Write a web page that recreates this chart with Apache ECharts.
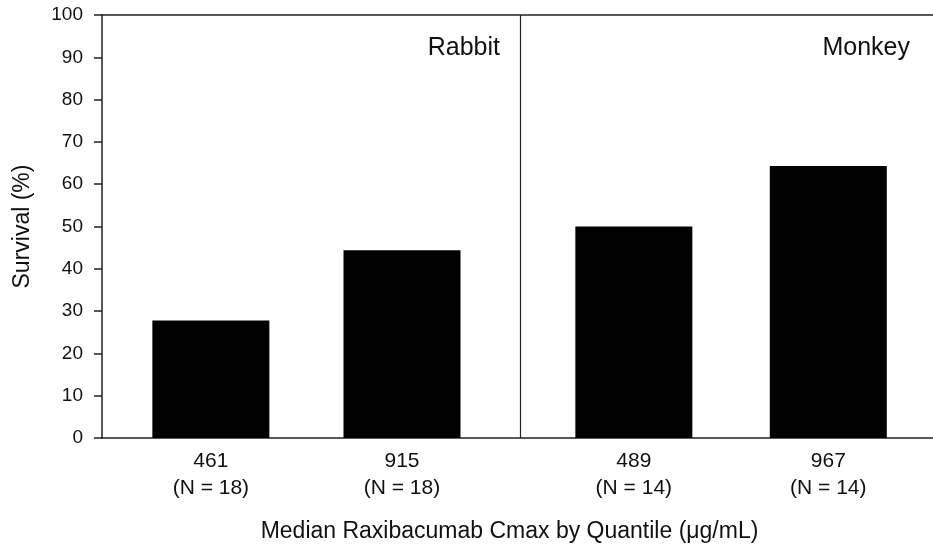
<!DOCTYPE html>
<html>
<head>
<meta charset="utf-8">
<script src="https://cdn.jsdelivr.net/npm/echarts@6/dist/echarts.min.js"></script>
<style>
html,body{margin:0;padding:0;background:#fff;}
#chart{width:933px;height:551px;}
</style>
</head>
<body>
<div id="chart"></div>
<script>
// ---- data ----
const cmaxLabels = ['461', '915', '489', '967'];
const nLabels = ['(N = 18)', '(N = 18)', '(N = 14)', '(N = 14)'];
const survival = [27.8, 44.4, 50.0, 64.3];
const species = ['Rabbit', 'Monkey'];
const yTicks = [0, 10, 20, 30, 40, 50, 60, 70, 80, 90, 100];

// ---- layout (axis units along the x axis) ----
const xPos = [13.1, 36.1, 64.0, 87.4];
const dividerPos = 50.3;

const FONT = 'Liberation Sans, Arial, sans-serif';
const chart = echarts.init(document.getElementById('chart'), null, {renderer: 'canvas'});

const labelMap = {};
xPos.forEach((p, i) => { labelMap[p.toFixed(1)] = cmaxLabels[i] + '\n' + nLabels[i]; });

chart.setOption({
  animation: false,
  backgroundColor: '#fff',
  grid: {left: 102, right: 0, top: 15, bottom: 113, containLabel: false},
  xAxis: [{
    type: 'value', min: 0, max: 100, position: 'bottom',
    axisLine: {show: true, lineStyle: {color: '#222', width: 1.5}},
    axisTick: {show: false},
    splitLine: {show: false},
    axisLabel: {
      customValues: xPos,
      formatter: v => labelMap[Number(v).toFixed(1)] || '',
      fontFamily: FONT, fontSize: 21, color: '#111', lineHeight: 27, margin: 10
    },
    name: 'Median Raxibacumab Cmax by Quantile (\u03bcg/mL)',
    nameLocation: 'middle', nameGap: 82,
    nameTextStyle: {fontFamily: FONT, fontSize: 23, color: '#111', padding: [0, 16, 0, 0]}
  }, {
    type: 'value', min: 0, max: 100, position: 'top',
    axisLine: {show: true, lineStyle: {color: '#222', width: 1.5}},
    axisTick: {show: false}, axisLabel: {show: false}, splitLine: {show: false}
  }],
  yAxis: {
    type: 'value', min: 0, max: 100, interval: 10,
    axisLine: {show: true, lineStyle: {color: '#222', width: 1.5}},
    axisTick: {show: true, inside: false, length: 8, lineStyle: {color: '#222', width: 1.5}},
    splitLine: {show: false},
    axisLabel: {
      customValues: yTicks,
      fontFamily: FONT, fontSize: 19, color: '#111', margin: 19
    },
    name: 'Survival (%)', nameLocation: 'middle', nameGap: 68, nameRotate: 90,
    nameTextStyle: {fontFamily: FONT, fontSize: 23, color: '#111'}
  },
  series: [{
    type: 'bar',
    data: survival.map((v, i) => [xPos[i], v]),
    barWidth: 117,
    itemStyle: {color: '#000'},
    markLine: {
      silent: true, symbol: 'none',
      lineStyle: {color: '#222', width: 1.2, type: 'solid'},
      label: {show: false},
      data: [{xAxis: dividerPos}]
    }
  }],
  graphic: [
    {type: 'text', right: 933 - 500, top: 36, style: {text: species[0], font: '25px ' + FONT, fill: '#111'}},
    {type: 'text', right: 933 - 910, top: 36, style: {text: species[1], font: '25px ' + FONT, fill: '#111'}}
  ]
});
</script>
</body>
</html>
